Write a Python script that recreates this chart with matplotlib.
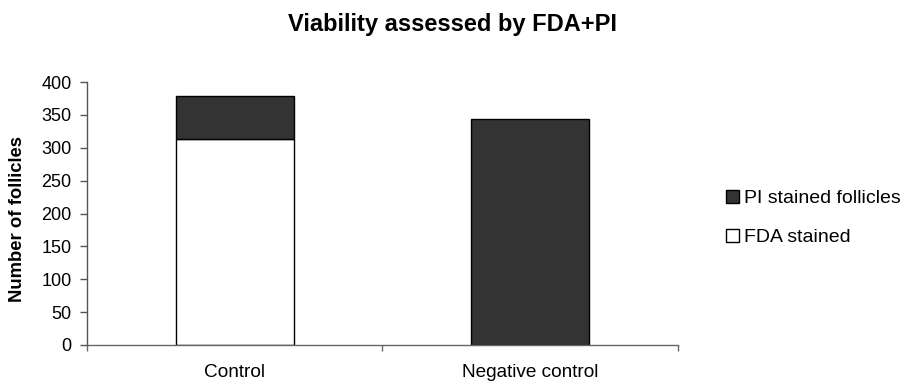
import matplotlib
matplotlib.use("Agg")
import matplotlib.pyplot as plt
from matplotlib.patches import Patch

plt.rcParams['font.family'] = ['Liberation Sans', 'DejaVu Sans']

categories = ['Control', 'Negative control']
fda_stained = [313, 0]
pi_stained = [66, 344]

fig = plt.figure(figsize=(9.05, 3.85), dpi=100)
ax = fig.add_axes([0.0961, 0.1039, 0.653, 0.683])

x = list(range(len(categories)))
ax.bar(x, fda_stained, width=0.4, color='white', edgecolor='black', linewidth=1)
ax.bar(x, pi_stained, width=0.4, bottom=fda_stained, color='#333333',
       edgecolor='black', linewidth=1)

ax.set_xlim(-0.5, 1.5)
ax.set_ylim(0, 400)
ax.set_yticks(range(0, 401, 50))
ax.tick_params(axis='y', labelsize=13, length=5, color='#555555', width=1, pad=6)

# category labels sit between boundary tick marks
ax.set_xticks([-0.5, 0.5, 1.5])
ax.set_xticklabels([])
ax.set_xticks(x, minor=True)
ax.set_xticklabels(categories, minor=True, fontsize=13.7)
ax.tick_params(axis='x', which='major', length=4.5, color='#666666', width=1)
ax.tick_params(axis='x', which='minor', length=0, pad=14)

for side in ['top', 'right']:
    ax.spines[side].set_visible(False)
ax.spines['left'].set_color('#555555')
ax.spines['bottom'].set_color('#666666')
for side in ['left', 'bottom']:
    ax.spines[side].set_linewidth(1)

fig.text(18 / 905, 1 - 219 / 385, 'Number of follicles', rotation=90,
         ha='center', va='center', fontsize=13.3, fontweight='bold')
fig.text(0.5, 1 - 31 / 385, 'Viability assessed by FDA+PI', ha='center',
         va='baseline', fontsize=17, fontweight='bold')

handles = [Patch(facecolor='#333333', edgecolor='black', label='PI stained follicles'),
           Patch(facecolor='white', edgecolor='black', label='FDA stained')]
fig.legend(handles=handles, loc='center left', bbox_to_anchor=(726 / 905, 1 - 218 / 385),
           frameon=False, fontsize=14, handlelength=0.65, handleheight=0.65,
           handletextpad=0.3, labelspacing=1.1, borderpad=0, borderaxespad=0)

fig.savefig('out.png', dpi=100)
